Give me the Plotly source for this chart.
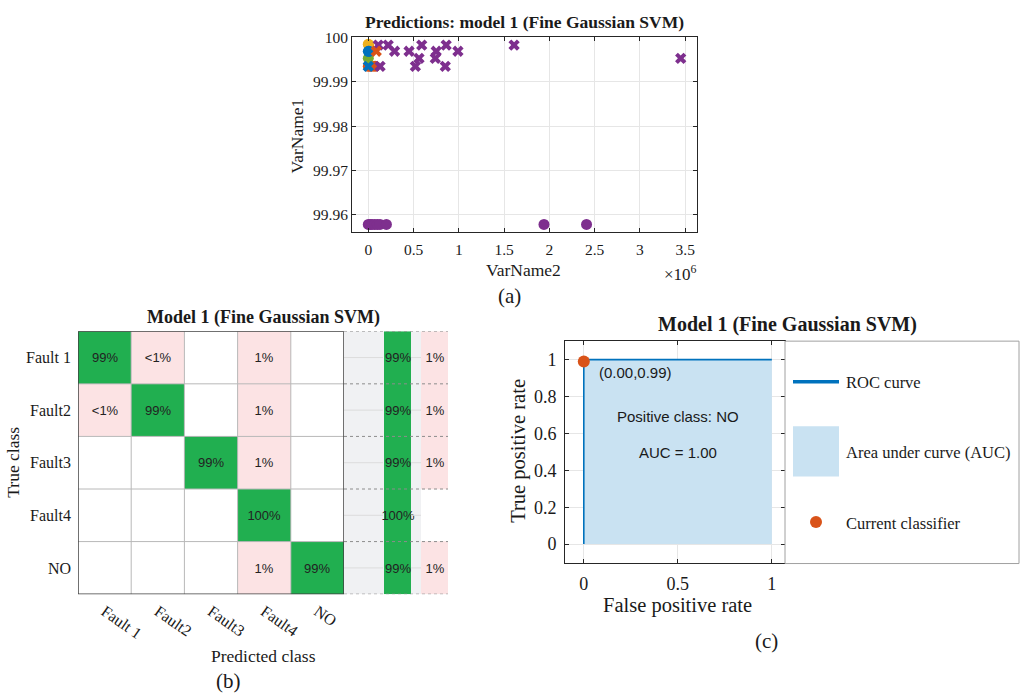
import plotly.graph_objects as go

W, H = 1022, 696

# ---------------- data: panel (a) scatter ----------------
f1_ok_x = [0.0, 0.008e6]
f1_ok_y = [99.9969, 99.9969]
f2_ok_x = [0.0, 0.03e6, 0.075e6]
f2_ok_y = [99.9935, 99.9935, 99.9935]
f3_ok_x = [0.0, 0.004e6]
f3_ok_y = [99.9985, 99.9984]
f4_ok_x = [0.0, 0.02e6, 0.04e6, 0.07e6, 0.10e6, 0.13e6, 0.20e6, 1.94e6, 2.41e6]
f4_ok_y = [99.9578] * 9
no_ok_x = [0.0]
no_ok_y = [99.9953]

f1_bad_x = [0.0]
f1_bad_y = [99.9935]
f2_bad_x = [0.088e6]
f2_bad_y = [99.9969]
f4_bad_x = [0.11e6, 0.22e6, 0.29e6, 0.13e6, 0.45e6, 0.56e6, 0.59e6, 0.52e6,
            0.75e6, 0.74e6, 0.86e6, 0.85e6, 0.99e6, 1.61e6, 3.45e6]
f4_bad_y = [99.9983, 99.9983, 99.9969, 99.9935, 99.9969, 99.9953, 99.9983, 99.9935,
            99.9969, 99.9953, 99.9983, 99.9935, 99.9969, 99.9983, 99.9953]

a_xticks = [0, 0.5e6, 1e6, 1.5e6, 2e6, 2.5e6, 3e6, 3.5e6]
a_xticktext = ["0", "0.5", "1", "1.5", "2", "2.5", "3", "3.5"]
a_yticks = [99.96, 99.97, 99.98, 99.99, 100.0]
a_yticktext = ["99.96", "99.97", "99.98", "99.99", "100"]

# ---------------- data: panel (b) confusion matrix ----------------
classes = ["Fault 1", "Fault2", "Fault3", "Fault4", "NO"]
cm_pct = [
    [98.9, 0.3, 0.0, 0.8, 0.0],
    [0.3, 98.9, 0.0, 0.8, 0.0],
    [0.0, 0.0, 99.2, 0.8, 0.0],
    [0.0, 0.0, 0.0, 100.0, 0.0],
    [0.0, 0.0, 0.0, 0.8, 99.2],
]
tpr_pct = [99, 99, 99, 100, 99]
fnr_pct = [1, 1, 1, 0, 1]

# ---------------- data: panel (c) ROC ----------------
roc_fpr = [0.0, 0.0, 0.0, 1.0]
roc_tpr = [0.0, 0.99, 1.0, 1.0]
cur_fpr = [0.0]
cur_tpr = [0.99]
auc_val = 1.00

# ---------------- helpers ----------------
def px(x):
    return x / W

def py(y):
    return 1 - y / H

SERIF = "Liberation Serif"
SANS = "Liberation Sans"
AX = "#262626"
GRID = "#e6e6e6"
BLUE = "#0072BD"
ORANGE = "#D95319"
YELLOW = "#EDB120"
PURPLE = "#7E2F8E"
GREEN = "#77AC30"
CM_GREEN = "#21AF50"
CM_PINK = "#FCE3E4"
CM_GRAY = "#F0F1F3"
ROC_FILL = "#C9E2F2"


def fmt(v):
    if v <= 0:
        return ""
    if v < 0.5:
        return "<1%"
    return f"{round(v)}%"


fig = go.Figure()

# ---- panel (a) ----
def circ(x, y, c):
    fig.add_trace(go.Scatter(x=x, y=y, mode="markers", xaxis="x", yaxis="y",
                             marker=dict(symbol="circle", size=11, color=c),
                             showlegend=False, hoverinfo="skip"))

def cross(x, y, c):
    fig.add_trace(go.Scatter(x=x, y=y, mode="markers", xaxis="x", yaxis="y",
                             marker=dict(symbol="x", size=10, color=c),
                             showlegend=False, hoverinfo="skip"))

circ(f4_ok_x, f4_ok_y, PURPLE)
circ(f2_ok_x, f2_ok_y, ORANGE)
circ(no_ok_x, no_ok_y, GREEN)
circ(f3_ok_x, f3_ok_y, YELLOW)
circ(f1_ok_x, f1_ok_y, BLUE)
cross(f4_bad_x, f4_bad_y, PURPLE)
cross(f2_bad_x, f2_bad_y, ORANGE)
cross(f1_bad_x, f1_bad_y, BLUE)

# ---- panel (b) main matrix ----
n = len(classes)
z_main = []
t_main = []
for i in range(n):
    zr, tr = [], []
    for j in range(n):
        v = cm_pct[i][j]
        if i == j:
            zr.append(2)
        elif v > 0:
            zr.append(1)
        else:
            zr.append(0)
        tr.append(fmt(v))
    z_main.append(zr)
    t_main.append(tr)

cscale = [[0, "#ffffff"], [1 / 3, CM_PINK], [2 / 3, CM_GREEN], [1, CM_GRAY]]
fig.add_trace(go.Heatmap(
    z=z_main, x=list(range(n)), y=list(range(n)), text=t_main,
    texttemplate="%{text}", textfont=dict(family=SANS, size=13, color="#222222"),
    colorscale=cscale, zmin=0, zmax=3, showscale=False, hoverinfo="skip",
    xaxis="x2", yaxis="y2"))

# ---- panel (b) summary ----
s_edges = [0, 40, 67, 77, 104]
z_sum, t_sum = [], []
for i in range(n):
    z_sum.append([3, 2, 3, 1 if fnr_pct[i] > 0 else 0])
    t_sum.append(["", f"{tpr_pct[i]}%", "", f"{fnr_pct[i]}%" if fnr_pct[i] > 0 else ""])
fig.add_trace(go.Heatmap(
    z=z_sum, x=s_edges, y=list(range(n)), text=t_sum,
    texttemplate="%{text}", textfont=dict(family=SANS, size=13, color="#222222"),
    colorscale=cscale, zmin=0, zmax=3, showscale=False, hoverinfo="skip",
    xaxis="x3", yaxis="y3"))

# ---- panel (c) ROC ----
fig.add_trace(go.Scatter(x=roc_fpr, y=roc_tpr, mode="lines", fill="tozeroy",
                         fillcolor=ROC_FILL, line=dict(color=BLUE, width=1.6),
                         xaxis="x4", yaxis="y4", showlegend=False, hoverinfo="skip"))
fig.add_trace(go.Scatter(x=cur_fpr, y=cur_tpr, mode="markers",
                         marker=dict(color=ORANGE, size=12),
                         xaxis="x4", yaxis="y4", showlegend=False, hoverinfo="skip"))

shapes = []
# matrix inner grid lines
for k in range(1, n):
    shapes.append(dict(type="line", xref="x2", yref="y2", x0=k - 0.5, x1=k - 0.5,
                       y0=-0.5, y1=n - 0.5, line=dict(color="#b8b8b8", width=1)))
    shapes.append(dict(type="line", xref="x2", yref="y2", x0=-0.5, x1=n - 0.5,
                       y0=k - 0.5, y1=k - 0.5, line=dict(color="#b8b8b8", width=1)))
shapes.append(dict(type="rect", xref="x2", yref="y2", x0=-0.5, x1=n - 0.5,
                   y0=-0.5, y1=n - 0.5, line=dict(color="#404040", width=1.5)))
# summary faint centre lines and dotted row borders
for k in range(n):
    shapes.append(dict(type="line", xref="x3", yref="y3", x0=0, x1=39, y0=k, y1=k,
                       line=dict(color="#dcdcdc", width=1)))
    shapes.append(dict(type="line", xref="x3", yref="y3", x0=67, x1=77, y0=k, y1=k,
                       line=dict(color="#dcdcdc", width=1)))
for k in range(n + 1):
    shapes.append(dict(type="line", xref="x3", yref="y3", x0=0, x1=104,
                       y0=k - 0.5, y1=k - 0.5,
                       line=dict(color="#8c8c8c", width=1, dash="dot")))

# ROC legend box (manual)
shapes.append(dict(type="rect", xref="paper", yref="paper", x0=px(785), x1=px(1019),
                   y0=py(562), y1=py(337), fillcolor="white",
                   line=dict(color="#a0a0a0", width=1)))
shapes.append(dict(type="line", xref="paper", yref="paper", x0=px(793), x1=px(839),
                   y0=py(378), y1=py(378), line=dict(color=BLUE, width=3.5)))
shapes.append(dict(type="rect", xref="paper", yref="paper", x0=px(793), x1=px(839),
                   y0=py(474), y1=py(423), fillcolor=ROC_FILL, line=dict(width=0)))
shapes.append(dict(type="circle", xref="paper", yref="paper", x0=px(810), x1=px(822),
                   y0=py(526), y1=py(514), fillcolor=ORANGE, line=dict(width=0)))

ann = []

def A(x, y, text, size, family=SERIF, bold=False, xanchor="center", angle=0, color="#1a1a1a"):
    ann.append(dict(x=px(x), y=py(y), xref="paper", yref="paper", text=f"<b>{text}</b>" if bold else text,
                    showarrow=False, xanchor=xanchor, yanchor="middle", textangle=angle,
                    font=dict(family=family, size=size, color=color)))

# panel a labels
A(524, 14, "Predictions: model 1 (Fine Gaussian SVM)", 17.5, bold=True)
A(523, 265, "VarName2", 17.5)
A(297, 130, "VarName1", 17.5, angle=-90)
A(680, 268, "×10<sup>6</sup>", 17)
A(509, 291, "(a)", 21)
# panel b labels
A(263, 313, "Model 1 (Fine Gaussian SVM)", 18, bold=True)
A(263, 656, "Predicted class", 17.5)
A(13, 460, "True class", 17.5, angle=-90)
A(228, 681, "(b)", 21)
# panel c labels
A(787, 320, "Model 1 (Fine Gaussian SVM)", 20, bold=True)
A(677, 604, "False positive rate", 20.5)
A(519, 448, "True positive rate", 20.5, angle=-90)
A(766, 640, "(c)", 21)
A(844, 379, "ROC curve", 16.5, xanchor="left")
A(844, 450, "Area under curve (AUC)", 16.5, xanchor="left")
A(844, 521, "Current classifier", 16.5, xanchor="left")

# data-anchored texts in ROC
ann.append(dict(x=0.07, y=0.93, xref="x4", yref="y4", text=f"({cur_fpr[0]:.2f},{cur_tpr[0]:.2f})",
                showarrow=False, xanchor="left", font=dict(family=SANS, size=15, color="#1a1a1a")))
ann.append(dict(x=0.5, y=0.69, xref="x4", yref="y4", text="Positive class: NO",
                showarrow=False, font=dict(family=SANS, size=15, color="#1a1a1a")))
ann.append(dict(x=0.5, y=0.495, xref="x4", yref="y4", text=f"AUC = {auc_val:.2f}",
                showarrow=False, font=dict(family=SANS, size=15, color="#1a1a1a")))

tickfont_b = dict(family=SERIF, size=16, color="#1a1a1a")

fig.update_layout(
    width=W, height=H, autosize=False,
    margin=dict(l=0, r=0, t=0, b=0),
    paper_bgcolor="white", plot_bgcolor="white",
    showlegend=False,
    shapes=shapes, annotations=ann,
    xaxis=dict(domain=[px(352), px(697)], range=[-0.18e6, 3.63e6],
               tickvals=a_xticks, ticktext=a_xticktext, ticks="inside", ticklen=4,
               tickcolor=AX, showline=True, linecolor=AX, linewidth=1, mirror="ticks",
               showgrid=True, gridcolor=GRID, zeroline=False,
               tickfont=dict(family=SERIF, size=15.5, color="#1a1a1a"), anchor="y",
               ticklabelstandoff=3),
    yaxis=dict(domain=[py(227), py(29)], range=[99.956, 100.0002],
               tickvals=a_yticks, ticktext=a_yticktext, ticks="inside", ticklen=4,
               tickcolor=AX, showline=True, linecolor=AX, linewidth=1, mirror="ticks",
               showgrid=True, gridcolor=GRID, zeroline=False,
               tickfont=dict(family=SERIF, size=15.5, color="#1a1a1a"), anchor="x"),
    xaxis2=dict(domain=[px(78), px(344)], range=[-0.5, n - 0.5],
                tickvals=list(range(n)), ticktext=classes, tickangle=35,
                ticks="", showgrid=False, zeroline=False, showline=False,
                tickfont=tickfont_b, anchor="y2", ticklabelstandoff=4),
    yaxis2=dict(domain=[py(593), py(327)], range=[n - 0.5, -0.5],
                tickvals=list(range(n)), ticktext=classes,
                ticks="", showgrid=False, zeroline=False, showline=False,
                tickfont=tickfont_b, anchor="x2", ticklabelstandoff=6),
    xaxis3=dict(domain=[px(344), px(448)], range=[0, 104], visible=False, anchor="y3"),
    yaxis3=dict(domain=[py(593), py(327)], range=[n - 0.5, -0.5], visible=False, anchor="x3"),
    xaxis4=dict(domain=[px(565), px(785)], range=[-0.1, 1.07],
                tickvals=[0, 0.5, 1], ticktext=["0", "0.5", "1"], ticks="inside", ticklen=4,
                tickcolor=AX, showline=True, linecolor=AX, linewidth=1, mirror="ticks",
                showgrid=True, gridcolor=GRID, zeroline=False,
                tickfont=dict(family=SERIF, size=18, color="#1a1a1a"), anchor="y4",
                ticklabelstandoff=5),
    yaxis4=dict(domain=[py(561), py(337)], range=[-0.1, 1.1],
                tickvals=[0, 0.2, 0.4, 0.6, 0.8, 1], ticktext=["0", "0.2", "0.4", "0.6", "0.8", "1"],
                ticks="inside", ticklen=4,
                tickcolor=AX, showline=True, linecolor=AX, linewidth=1, mirror="ticks",
                showgrid=True, gridcolor=GRID, zeroline=False,
                tickfont=dict(family=SERIF, size=18, color="#1a1a1a"), anchor="x4",
                ticklabelstandoff=4),
)

fig.write_html("out.html")
